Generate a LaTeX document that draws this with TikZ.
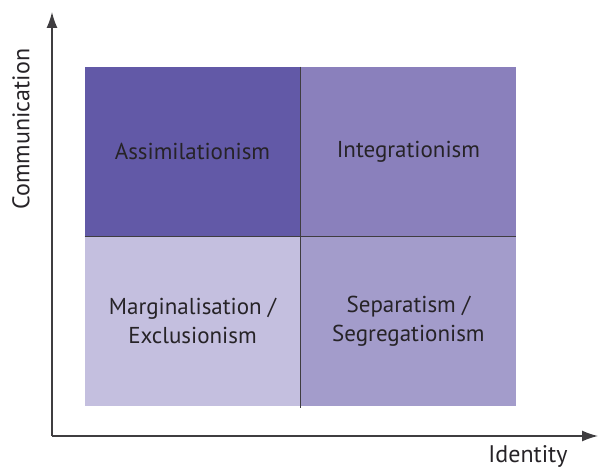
\documentclass[tikz,border=0pt]{standalone}
\usepackage{fontspec}
\setmainfont{PT Sans}
\usetikzlibrary{arrows.meta}
\usetikzlibrary{positioning}
\definecolor{assimcol}{HTML}{6259A7}
\definecolor{integcol}{HTML}{8A80BC}
\definecolor{margincol}{HTML}{C4BFDF}
\definecolor{separcol}{HTML}{A39CCB}
\definecolor{txtgray}{HTML}{262327}
\definecolor{axisgray}{HTML}{3F3D40}
\tikzset{
	cellnode/.style = {rectangle, inner sep=0pt, align=center, text=txtgray,
		minimum width=215.5pt, minimum height=169.5pt,
		font=\fontsize{23}{29}\selectfont},
	cell_a/.style = {cellnode, fill=assimcol},% oben links
	cell_i/.style = {cellnode, fill=integcol},% oben rechts
	cell_m/.style = {cellnode, fill=margincol},% unten links
	cell_s/.style = {cellnode, fill=separcol},% unten rechts
	axislabel/.style = {text=txtgray, inner sep=0pt,
		font=\fontsize{24}{26}\selectfont}
}

\begin{document}
\begin{tikzpicture}[x=1pt,y=-1pt,>={Latex[length=16pt,width=11pt]}]
		\useasboundingbox (0,0) rectangle (600,468);
		\node [cell_a] (assim) at (192.5,151.5) {Assimilationism};
		\node [cell_i, right=0pt of assim] (integ) {Integrationism};
		\node [cell_m, below=0pt of assim] (margin) {Marginalisation /\\Exclusionism};
		\node [cell_s, right=0pt of margin] (separ) {Separatism /\\Segregationism};
		\draw [axisgray, line width=1pt] (assim.south west) -- (integ.south east);
		\draw [axisgray, line width=1pt, shorten >=-2pt] (assim.north east) -- (margin.south east);
		\coordinate (origin) at (52,436);
		\coordinate (ytip) at (52,12);
		\coordinate (xtip) at (598,436);
		\draw [->, axisgray, line width=1.4pt] (origin) -- (ytip);
		\draw [->, axisgray, line width=1.4pt] (origin) -- (xtip);
		\node [axislabel, rotate=90] (comm) at (21,129) {Communication};
		\node [axislabel] (ident) at (528,456) {Identity};
		;\end{tikzpicture}
\end{document}
